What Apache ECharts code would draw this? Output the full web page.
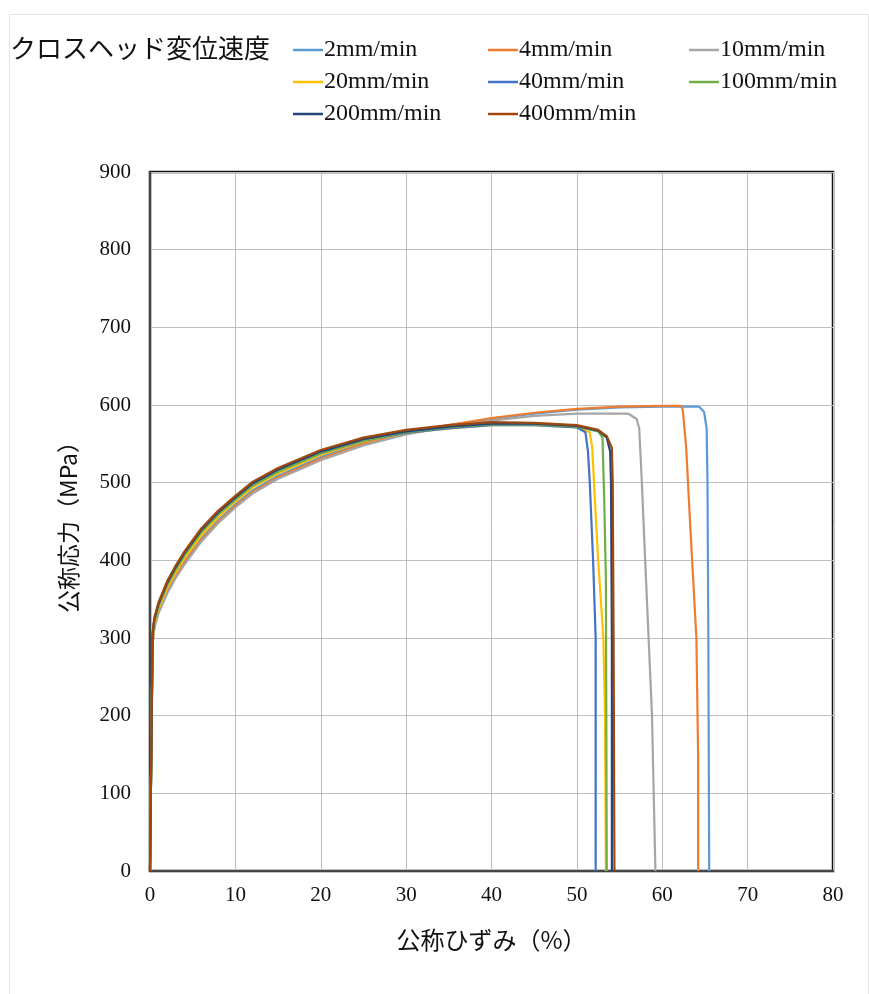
<!DOCTYPE html>
<html>
<head>
<meta charset="utf-8">
<script src="https://cdn.jsdelivr.net/npm/echarts@6/dist/echarts.min.js"></script>
<style>
  html, body { margin: 0; padding: 0; background: #fff; }
  #main { width: 869px; height: 994px; }
</style>
</head>
<body>
<div id="main"></div>
<script>
// 公称ひずみ(%), 公称応力(MPa) の読み取り値
var speeds = ['2mm/min', '4mm/min', '10mm/min', '20mm/min', '40mm/min', '100mm/min', '200mm/min', '400mm/min'];
var colors = ['#5B9BD5', '#ED7D31', '#A5A5A5', '#FFC000', '#4472C4', '#70AD47', '#264478', '#9E480E'];

var s2 = [[0,0],[0.15,150],[0.3,295],[0.5,316],[1,336],[2,361],[3,381],[4,398],[6,428],[8,452],[10,472],[12,490],[15,509],[20,533],[25,551],[30,564],[35,574],[40,582],[45,589],[50,594],[55,597],[60,598],[64.3,598],[64.9,591],[65.2,570],[65.3,500],[65.4,300],[65.5,0]];
var s4 = [[0,0],[0.15,150],[0.3,293],[0.5,314],[1,334],[2,359],[3,379],[4,396],[6,426],[8,450],[10,470],[12,488],[15,507],[20,531],[25,550],[30,564],[35,574],[40,583],[45,590],[50,595],[55,598],[60,599],[62.2,599],[62.4,594],[62.8,546],[63.2,461],[63.5,400],[64.0,300],[64.2,150],[64.2,0]];
var s10 = [[0,0],[0.15,150],[0.3,291],[0.5,312],[1,332],[2,357],[3,377],[4,394],[6,424],[8,448],[10,468],[12,486],[15,505],[20,529],[25,548],[30,562],[35,572],[40,580],[45,586],[50,589],[56,589],[57.0,582],[57.3,570],[57.6,503],[58.0,400],[58.4,300],[58.8,200],[59.2,0]];
var s20 = [[0,0],[0.15,150],[0.3,298],[0.5,318],[1,338],[2,364],[3,384],[4,402],[6,432],[8,456],[10,476],[12,494],[15,512],[20,536],[25,553],[30,564],[35,570],[40,574],[45,574],[50,571],[51.5,565],[51.8,545],[52.1,480],[52.5,400],[53.1,300],[53.3,200],[53.4,0]];
var s40 = [[0,0],[0.15,150],[0.3,302],[0.5,322],[1,342],[2,369],[3,389],[4,407],[6,437],[8,460],[10,479],[12,497],[15,515],[20,538],[25,554],[30,564],[35,570],[40,574],[45,574],[50,571],[51.0,565],[51.3,540],[51.5,503],[51.9,400],[52.2,300],[52.2,0]];
var s100 = [[0,0],[0.15,150],[0.3,301],[0.5,321],[1,341],[2,368],[3,388],[4,406],[6,436],[8,459],[10,478],[12,496],[15,514],[20,538],[25,554],[30,565],[35,571],[40,575],[45,575],[50,572],[52.5,566],[53.0,558],[53.2,480],[53.4,375],[53.5,0]];
var s200 = [[0,0],[0.15,150],[0.3,304],[0.5,324],[1,344],[2,371],[3,391],[4,409],[6,439],[8,462],[10,481],[12,499],[15,517],[20,540],[25,556],[30,566],[35,572],[40,576],[45,576],[50,573],[52.5,567],[53.5,558],[53.9,540],[54.0,500],[54.1,300],[54.1,0]];
var s400 = [[0,0],[0.15,150],[0.3,306],[0.5,326],[1,346],[2,373],[3,393],[4,411],[6,441],[8,464],[10,483],[12,501],[15,519],[20,542],[25,558],[30,568],[35,574],[40,578],[45,577],[50,574],[52.5,568],[53.5,560],[54.1,545],[54.2,500],[54.3,300],[54.4,0]];

var curves = [s2, s4, s10, s20, s40, s100, s200, s400];

var chart = echarts.init(document.getElementById('main'));

var serif = '"Liberation Serif", "Times New Roman", serif';
var cjk = '"Noto Sans CJK JP", sans-serif';

function legendCol(names, left) {
  return {
    data: names,
    orient: 'vertical',
    left: left,
    top: 33,
    itemGap: 8,
    itemWidth: 30,
    itemHeight: 2.5,
    icon: 'rect',
    textStyle: { fontFamily: serif, fontSize: 24, lineHeight: 24, color: '#111', padding: [0, 0, 0, -4] }
  };
}

var series = speeds.map(function (name, i) {
  return {
    name: name,
    type: 'line',
    data: curves[i],
    symbol: 'none',
    lineStyle: { width: 2.2, color: colors[i] },
    itemStyle: { color: colors[i] },
    animation: false
  };
});

option = {
  backgroundColor: '#fff',
  animation: false,
  graphic: [
    { type: 'rect', left: 7, top: 12, shape: { width: 859, height: 1000 },
      style: { fill: 'none', stroke: '#E3E3E3', lineWidth: 1 } },
    { type: 'text', x: 10, y: 48,
      style: { text: 'クロスヘッド変位速度', font: '26px ' + cjk, fill: '#111', verticalAlign: 'middle' } }
  ],
  legend: [
    legendCol(['2mm/min', '20mm/min', '200mm/min'], 288),
    legendCol(['4mm/min', '40mm/min', '400mm/min'], 483),
    legendCol(['10mm/min', '100mm/min'], 684)
  ],
  grid: {
    left: 150, right: 36, top: 172, bottom: 123,
    show: true, borderColor: '#111', borderWidth: 2.5
  },
  xAxis: {
    type: 'value', min: 0, max: 80, interval: 10,
    name: '公称ひずみ（%）', nameLocation: 'middle', nameGap: 57,
    nameTextStyle: { fontFamily: cjk, fontSize: 24, color: '#111' },
    axisLine: { show: true, onZero: false, lineStyle: { color: '#444', width: 2 } },
    axisTick: { show: false },
    axisLabel: { fontFamily: serif, fontSize: 21, color: '#111', margin: 14 },
    splitLine: { show: true, lineStyle: { color: '#BFBFBF', width: 1 } }
  },
  yAxis: {
    type: 'value', min: 0, max: 900, interval: 100,
    name: '公称応力（MPa）', nameLocation: 'middle', nameGap: 70,
    nameTextStyle: { fontFamily: cjk, fontSize: 23, color: '#111' },
    axisLine: { show: true, lineStyle: { color: '#444', width: 2 } },
    axisTick: { show: false },
    axisLabel: { fontFamily: serif, fontSize: 21, color: '#111', margin: 19 },
    splitLine: { show: true, lineStyle: { color: '#BFBFBF', width: 1 } }
  },
  series: series
};

chart.setOption(option);
</script>
</body>
</html>
